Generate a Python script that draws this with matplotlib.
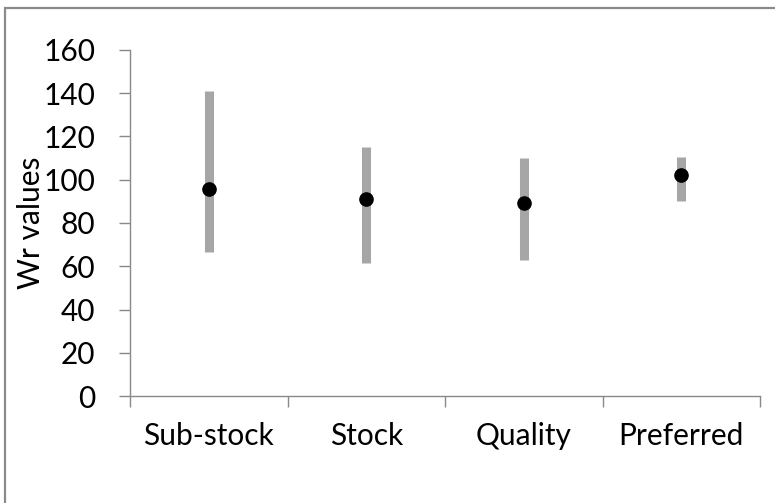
import matplotlib
matplotlib.use('Agg')
from matplotlib import pyplot as plt
from matplotlib.patches import Rectangle

categories = ['Sub-stock', 'Stock', 'Quality', 'Preferred']
wr_mean = [95.7, 90.9, 89.1, 102.0]
wr_low = [66.7, 61.3, 62.8, 90.1]
wr_high = [141.2, 115.3, 109.9, 110.5]
y_ticks = [0, 20, 40, 60, 80, 100, 120, 140, 160]

plt.rcParams['font.family'] = ['Lato', 'DejaVu Sans']
axis_grey = '#898989'
label_size = 21.5

fig = plt.figure(figsize=(7.75, 5.03), dpi=100)
ax = fig.add_axes([130 / 775, 107 / 503, 630 / 775, 346 / 503])

# outer chart frame (only top and left edges fall inside the image)
fig.patches.append(Rectangle((5 / 775, -0.1), 1.2, 1 - 8 / 503 + 0.1,
                             transform=fig.transFigure, fill=False,
                             edgecolor='#8a8a8a', linewidth=1.6))

x = [i + 0.5 for i in range(len(categories))]
ax.vlines(x, wr_low, wr_high, colors='#a6a6a6', linewidth=6.5)
ax.plot(x, wr_mean, 'o', color='black', markersize=9.5, linestyle='none')

ax.set_xlim(0, len(categories))
ax.set_ylim(0, 160)
ax.set_yticks(y_ticks)
ax.set_xticks(range(len(categories) + 1))
ax.set_xticklabels([])
ax.set_xticks(x, minor=True)
ax.set_xticklabels(categories, minor=True)

for side in ['top', 'right']:
    ax.spines[side].set_visible(False)
for side in ['left', 'bottom']:
    ax.spines[side].set_color(axis_grey)
    ax.spines[side].set_linewidth(1)

ax.tick_params(axis='y', direction='out', length=8, width=1, color=axis_grey,
               labelsize=label_size, pad=17, labelcolor='black')
ax.tick_params(axis='x', which='major', direction='out', length=8, width=1,
               color=axis_grey)
ax.tick_params(axis='x', which='minor', length=0, labelsize=label_size, pad=19,
               labelcolor='black')

ax.set_ylabel('Wr values', fontsize=label_size, va='center')
ax.yaxis.set_label_coords(-0.157, 0.5)

fig.savefig('out.png', dpi=100, facecolor='white')
